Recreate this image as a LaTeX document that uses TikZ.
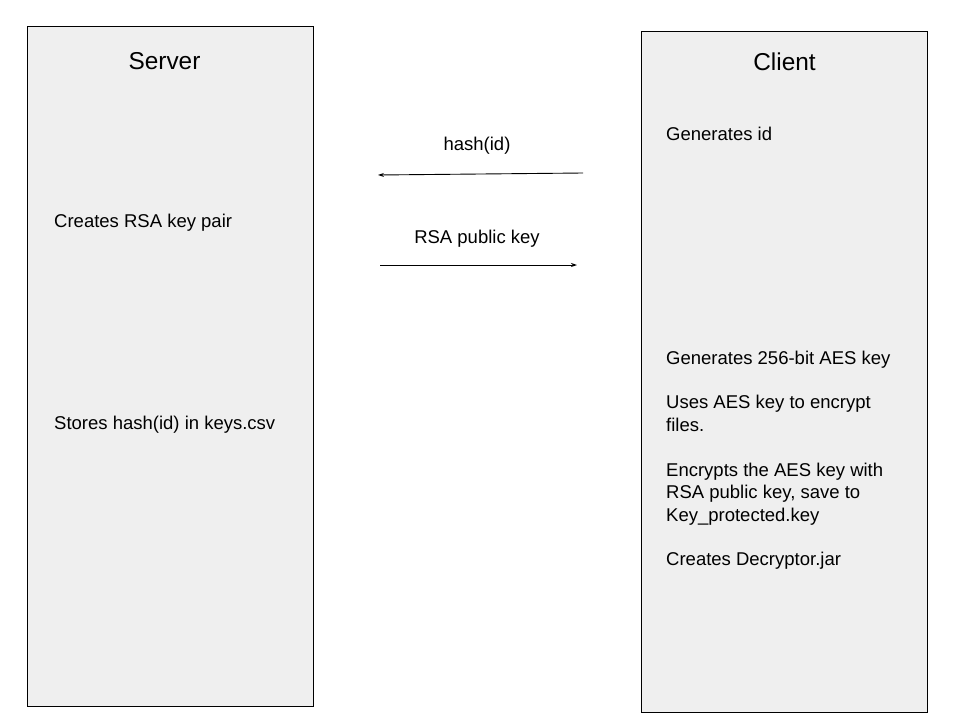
\documentclass[tikz,border=0pt]{standalone}
\usepackage{fontspec}
\setmainfont{Liberation Sans}
\usetikzlibrary{arrows.meta}
\definecolor{boxfill}{HTML}{EFEFEF}
\tikzset{
  x=1pt,y=-1pt,
  panel/.style={draw=black,line width=1.2pt,fill=boxfill,inner sep=0,minimum width=286pt,minimum height=680pt,anchor=north west},
  title/.style={font=\fontsize{24.4}{28}\selectfont,inner sep=0},
  label/.style={font=\fontsize{18.5}{22.5}\selectfont,inner sep=0,anchor=base west,align=left},
  msg/.style={font=\fontsize{18.5}{22.5}\selectfont,inner sep=0,anchor=base},
  flow/.style={line width=0.9pt,-{Stealth[length=6pt,width=4pt]}}
}
\begin{document}
\begin{tikzpicture}
\useasboundingbox (0,0) rectangle (960,720);
\fill[white] (0,0) rectangle (960,720);
\node[panel] (server) at (27,26) {};
\node[panel,minimum height=681pt] (client) at (641,31) {};
\node[title] (servert) at (164.5,61.5) {Server};
\node[title] (clientt) at (784.5,61.5) {Client};
\node[label] (s1) at (54,227) {Creates RSA key pair};
\node[label] (s2) at (54,429) {Stores hash(id) in keys.csv};
\node[label] (c1) at (666,140) {Generates id};
\node[label] (c2) at (666,364) {Generates 256-bit AES key};
\node[label] (c3) at (666,431) {Uses AES key to encrypt\\files.};
\node[label] (c4) at (666,521) {Encrypts the AES key with\\RSA public key, save to\\Key\_protected.key};
\node[label] (c5) at (666,565) {Creates Decryptor.jar};
\node[msg] (m1) at (477,150) {hash(id)};
\node[msg] (m2) at (477,243) {RSA public key};
\coordinate (a1s) at (583,173);
\coordinate (a1e) at (378,175);
\coordinate (a2s) at (380,265);
\coordinate (a2e) at (577,265);
\draw[flow] (a1s) -- (a1e);
\draw[flow] (a2s) -- (a2e);
\end{tikzpicture}
\end{document}
